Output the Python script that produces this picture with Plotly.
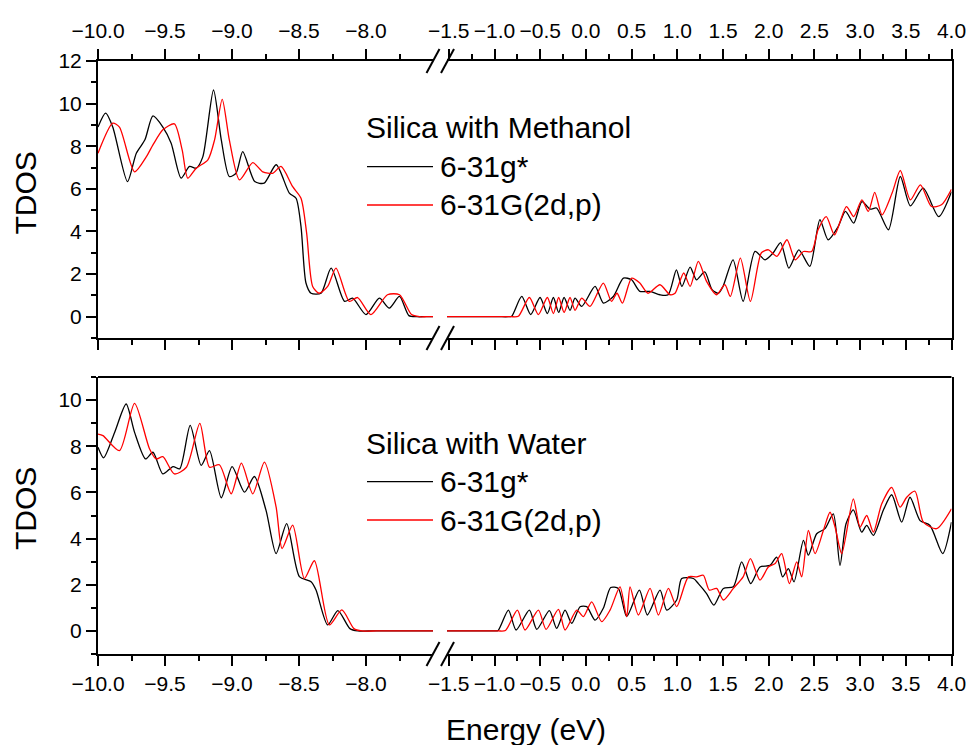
import plotly.graph_objects as go

# ---------------- data ----------------
# Silica with Methanol, basis 6-31g*
meth_g_E = [-10.0, -9.943, -9.89, -9.78, -9.714, -9.65, -9.59, -9.516, -9.454, -9.38,
            -9.317, -9.267, -9.218, -9.138, -9.08, -9.02, -8.97, -8.92, -8.83, -8.76,
            -8.67, -8.572, -8.522, -8.485, -8.448, -8.41, -8.336, -8.26, -8.16, -8.1,
            -8.0, -7.9, -7.826, -7.75, -7.68, -7.62, -7.56, -7.5,
            -1.52, -1.4, -1.25, -1.1, -0.95, -0.85, -0.812, -0.702, -0.604, -0.502,
            -0.422, -0.356, -0.298, -0.239, -0.174,
            -0.119, -0.046, 0.10, 0.191, 0.30, 0.41, 0.50, 0.59, 0.70, 0.81,
            0.90, 0.99, 1.05, 1.14, 1.21, 1.30, 1.38, 1.45, 1.50, 1.61,
            1.72, 1.85, 1.96, 2.05, 2.13, 2.22, 2.33, 2.45, 2.56, 2.65,
            2.76, 2.84, 2.93, 3.02, 3.11, 3.18, 3.31, 3.44, 3.55, 3.69, 3.86, 4.0]
meth_g_T = [8.9, 9.55, 8.9, 6.34, 7.67, 8.3, 9.42, 8.9, 8.14, 6.5,
            7.05, 6.97, 7.5, 10.64, 8.3, 6.58, 6.73, 7.75, 6.34, 6.27,
            7.13, 5.8, 5.56, 4.23, 1.58, 1.1, 1.1, 2.28, 0.72, 0.87,
            0.1, 0.87, 0.4, 0.95, 0.05, 0.0, 0.0, 0.0,
            0.0, 0.0, 0.0, 0.0, 0.0, 0.0, 0.02, 0.95, 0.1, 0.9,
            0.15, 0.9, 0.2, 0.9, 0.3,
            0.87, 0.48, 1.42, 0.64, 0.95, 1.81, 1.73, 1.19, 1.19, 1.03,
            1.03, 2.2, 1.42, 2.33, 1.73, 2.1, 1.27, 1.1, 1.42, 2.67,
            0.72, 3.06, 2.67, 3.0, 3.48, 2.28, 3.14, 2.36, 4.55, 3.61,
            4.23, 4.94, 4.39, 5.4, 5.05, 5.1, 4.08, 6.58, 5.2, 6.03, 4.7, 5.87]

# Silica with Methanol, basis 6-31G(2d,p)
meth_d_E = [-10.0, -9.89, -9.84, -9.727, -9.64, -9.59, -9.516, -9.43, -9.372, -9.33,
            -9.267, -9.18, -9.13, -9.073, -9.02, -8.944, -8.845, -8.77, -8.696, -8.634,
            -8.547, -8.485, -8.443, -8.398, -8.35, -8.286, -8.224, -8.125, -8.063, -7.963,
            -7.84, -7.75, -7.66, -7.6, -7.55, -7.5,
            -1.52, -1.4, -1.25, -1.1, -0.95, -0.82, -0.739, -0.619, -0.52, -0.422,
            -0.356, -0.298, -0.239, -0.174, -0.119,
            -0.046, 0.045, 0.19, 0.28, 0.34, 0.40, 0.50, 0.59, 0.68, 0.81,
            0.92, 0.975, 1.07, 1.14, 1.23, 1.32, 1.43, 1.52, 1.58, 1.69,
            1.80, 1.92, 1.997, 2.09, 2.20, 2.29, 2.38, 2.47, 2.54, 2.63,
            2.72, 2.85, 2.93, 3.02, 3.09, 3.16, 3.24, 3.35, 3.44, 3.55,
            3.66, 3.78, 3.89, 4.0]
meth_d_T = [7.67, 9.08, 8.9, 6.8, 7.5, 8.06, 8.77, 9.05, 7.83, 6.5,
            6.97, 7.36, 8.3, 10.2, 8.3, 6.42, 7.23, 6.8, 6.73, 7.05,
            6.1, 5.56, 3.92, 1.42, 1.1, 1.42, 2.28, 0.72, 0.9, 0.1,
            1.03, 1.03, 0.1, 0.0, 0.0, 0.0,
            0.0, 0.0, 0.0, 0.0, 0.0, 0.0, 0.02, 0.9, 0.1, 0.9,
            0.15, 0.9, 0.2, 0.9, 0.3,
            0.87, 0.48, 1.58, 0.72, 1.1, 0.64, 1.81, 1.58, 1.1, 1.5,
            1.03, 1.1, 2.05, 1.42, 2.6, 1.66, 1.03, 1.5, 0.95, 2.75,
            0.72, 3.0, 3.14, 2.83, 3.61, 2.67, 3.06, 3.06, 4.08, 4.7,
            3.84, 5.17, 4.7, 5.48, 4.94, 5.83, 4.78, 5.8, 6.86, 5.48,
            6.19, 5.17, 5.25, 5.98]

# Silica with Water, basis 6-31g*
wat_g_E = [-10.0, -9.958, -9.876, -9.79, -9.727, -9.645, -9.59, -9.516, -9.44, -9.39,
           -9.312, -9.23, -9.168, -9.08, -8.999, -8.907, -8.833, -8.746, -8.671, -8.592,
           -8.497, -8.41, -8.373, -8.286, -8.21, -8.12, -8.06, -7.95, -7.8, -7.65, -7.5,
           -1.52, -1.4, -1.25, -1.12, -1.0, -0.96, -0.848, -0.764, -0.619, -0.538,
           -0.4, -0.32, -0.228, -0.155,
           -0.064, 0.009, 0.1, 0.19, 0.271, 0.355, 0.446, 0.585, 0.672, 0.811,
           0.884, 0.993, 1.048, 1.176, 1.23, 1.32, 1.4, 1.504, 1.613, 1.704,
           1.803, 1.905, 2.015, 2.087, 2.153, 2.215, 2.277, 2.38, 2.434, 2.525,
           2.616, 2.707, 2.78, 2.846, 2.926, 3.017, 3.072, 3.145, 3.255, 3.346,
           3.455, 3.546, 3.656, 3.765, 3.904, 4.0]
wat_g_T = [7.96, 7.5, 8.6, 9.83, 8.6, 7.45, 7.74, 6.8, 7.12, 7.02,
           8.9, 7.17, 7.81, 5.77, 7.12, 6.01, 6.69, 5.22, 3.35, 4.65,
           2.35, 2.13, 1.77, 0.26, 0.88, 0.1, 0.0, 0.0, 0.0, 0.0, 0.0,
           0.0, 0.0, 0.0, 0.0, 0.0, 0.02, 0.9, 0.04, 0.9, 0.07,
           0.88, 0.11, 0.9, 0.33,
           1.05, 1.05, 0.47, 0.98, 1.88, 1.84, 0.62, 1.77, 0.69, 1.77,
           0.9, 1.34, 2.27, 2.27, 2.05, 1.62, 1.12, 1.84, 1.91, 2.99,
           2.05, 2.77, 2.84, 3.2, 2.34, 2.7, 2.13, 3.92, 3.28, 4.21,
           4.43, 5.07, 2.84, 4.64, 5.24, 4.28, 4.57, 4.14, 5.24, 5.9,
           4.71, 5.79, 4.78, 4.57, 3.35, 4.71]

# Silica with Water, basis 6-31G(2d,p)
wat_d_E = [-10.0, -9.963, -9.84, -9.727, -9.615, -9.565, -9.516, -9.43, -9.34, -9.24,
           -9.168, -9.094, -9.006, -8.93, -8.845, -8.758, -8.671, -8.626, -8.547, -8.46,
           -8.385, -8.274, -8.18, -8.09, -8.03, -7.92, -7.78, -7.64, -7.5,
           -1.52, -1.4, -1.25, -1.1, -0.96, -0.88, -0.75, -0.666, -0.52, -0.436,
           -0.301, -0.228, -0.1, -0.028,
           0.063, 0.173, 0.264, 0.373, 0.446, 0.483, 0.574, 0.702, 0.793, 0.902,
           0.993, 1.121, 1.212, 1.285, 1.35, 1.43, 1.504, 1.613, 1.72, 1.8,
           1.905, 1.996, 2.07, 2.142, 2.226, 2.306, 2.361, 2.434, 2.507, 2.598,
           2.671, 2.726, 2.799, 2.926, 2.999, 3.072, 3.145, 3.236, 3.346, 3.437,
           3.51, 3.601, 3.692, 3.838, 4.0]
wat_d_T = [8.53, 8.46, 7.81, 9.86, 7.88, 7.45, 7.55, 6.8, 7.09, 8.99,
           7.09, 7.2, 5.94, 7.27, 5.94, 7.31, 5.37, 3.57, 4.58, 2.27,
           3.04, 0.26, 0.91, 0.1, 0.0, 0.0, 0.0, 0.0, 0.0,
           0.0, 0.0, 0.0, 0.0, 0.0, 0.02, 0.9, 0.04, 0.9, 0.07,
           0.93, 0.04, 0.9, 0.62,
           1.26, 0.4, 0.9, 1.91, 0.62, 1.91, 0.69, 1.84, 0.69, 1.84,
           1.05, 2.34, 2.34, 2.41, 1.77, 1.84, 1.34, 1.84, 2.34, 3.13,
           2.2, 2.77, 2.92, 3.35, 2.05, 2.99, 2.34, 4.35, 3.35, 4.35,
           5.14, 4.5, 3.35, 5.72, 4.5, 5.0, 4.28, 5.5, 6.22, 5.36,
           5.79, 6.05, 4.71, 4.43, 5.29]

series_names = ["6-31g*", "6-31G(2d,p)"]
series_colors = ["black", "#ff0000"]
panel_titles = ["Silica with Methanol", "Silica with Water"]

# axis break: left segment and right segment of the energy axis
left_range = [-10.0, -7.5]
right_range = [-1.52, 4.0]
left_ticks = [-10.0, -9.5, -9.0, -8.5, -8.0]
left_ticktext = ["\u221210.0", "\u22129.5", "\u22129.0", "\u22128.5", "\u22128.0"]
left_minor = [-9.75, -9.25, -8.75, -8.25, -7.75]
right_ticks = [-1.5, -1.0, -0.5, 0.0, 0.5, 1.0, 1.5, 2.0, 2.5, 3.0, 3.5, 4.0]
right_ticktext = ["\u22121.5", "\u22121.0", "\u22120.5", "0.0", "0.5", "1.0", "1.5",
                  "2.0", "2.5", "3.0", "3.5", "4.0"]
right_minor = [-1.25, -0.75, -0.25, 0.25, 0.75, 1.25, 1.75, 2.25, 2.75, 3.25, 3.75]
top_y_range = [-1, 12]
top_y_ticks = [0, 2, 4, 6, 8, 10, 12]
bot_y_range = [-1, 11]
bot_y_ticks = [0, 2, 4, 6, 8, 10]

# ---------------- layout geometry ----------------
W, H = 972, 745
FONT = "Liberation Sans, Arial, sans-serif"


def fx(p):
    return p / W


def fy(p):
    return 1 - p / H


XL = [fx(98), fx(433)]
XR = [fx(447), fx(951.5)]
Y_TOP = [fy(338), fy(61)]
Y_BOT = [fy(654), fy(377)]

fig = go.Figure()

panels = [
    (meth_g_E, meth_g_T, meth_d_E, meth_d_T, ("x", "y"), ("x2", "y3")),
    (wat_g_E, wat_g_T, wat_d_E, wat_d_T, ("x3", "y2"), ("x4", "y4")),
]

for pi, (gE, gT, dE, dT, lax, rax) in enumerate(panels):
    for si, (E, T) in enumerate([(gE, gT), (dE, dT)]):
        le = [e for e in E if e <= left_range[1]]
        lt = [t for e, t in zip(E, T) if e <= left_range[1]]
        re_ = [e for e in E if e >= right_range[0]]
        rt = [t for e, t in zip(E, T) if e >= right_range[0]]
        line = dict(color=series_colors[si], width=1.3, shape="spline", smoothing=0.7)
        fig.add_trace(go.Scatter(x=le, y=lt, mode="lines", line=line,
                                 name=series_names[si], legendgroup=series_names[si],
                                 showlegend=False, xaxis=lax[0], yaxis=lax[1]))
        fig.add_trace(go.Scatter(x=re_, y=rt, mode="lines", line=line,
                                 name=series_names[si], legendgroup=series_names[si],
                                 showlegend=False, xaxis=rax[0], yaxis=rax[1]))

tickfont = dict(family=FONT, size=21, color="black")
base = dict(showline=True, linecolor="black", linewidth=2, ticks="outside",
            tickcolor="black", tickwidth=2, ticklen=10, showgrid=False,
            zeroline=False, tickfont=tickfont, automargin=False)


def xminor(vals):
    return dict(tickmode="array", tickvals=vals, ticks="outside", ticklen=5,
                tickwidth=2, tickcolor="black", showgrid=False)


yminor = dict(dtick=1, ticks="outside", ticklen=5, tickwidth=2, tickcolor="black",
              showgrid=False)
side_axis = dict(showline=True, linecolor="black", linewidth=2, ticks="",
                 showticklabels=False, showgrid=False, zeroline=False, automargin=False)

fig.update_layout(
    width=W, height=H, margin=dict(l=0, r=0, t=0, b=0, autoexpand=False),
    paper_bgcolor="white", plot_bgcolor="white", showlegend=False,
    font=dict(family=FONT, color="black"),
    xaxis=dict(base, domain=XL, anchor="y", side="top", range=left_range,
               tickmode="array", tickvals=left_ticks, ticktext=left_ticktext,
               minor=xminor(left_minor), mirror="ticks", ticklabelstandoff=3),
    xaxis2=dict(base, domain=XR, anchor="y3", side="top", range=right_range,
                tickmode="array", tickvals=right_ticks, ticktext=right_ticktext,
                minor=xminor(right_minor), mirror="ticks", ticklabelstandoff=3),
    yaxis=dict(base, domain=Y_TOP, anchor="x", range=top_y_range,
               tickmode="array", tickvals=top_y_ticks, minor=yminor),
    yaxis3=dict(side_axis, domain=Y_TOP, anchor="x2", side="right", range=top_y_range),
    xaxis3=dict(base, domain=XL, anchor="y2", side="bottom", range=left_range,
                tickmode="array", tickvals=left_ticks, ticktext=left_ticktext,
                minor=xminor(left_minor), mirror=False, ticklabelstandoff=0),
    xaxis4=dict(base, domain=XR, anchor="y4", side="bottom", range=right_range,
                tickmode="array", tickvals=right_ticks, ticktext=right_ticktext,
                minor=xminor(right_minor), mirror=False, ticklabelstandoff=0),
    yaxis2=dict(base, domain=Y_BOT, anchor="x3", range=bot_y_range,
                tickmode="array", tickvals=bot_y_ticks, minor=yminor),
    yaxis4=dict(side_axis, domain=Y_BOT, anchor="x4", side="right", range=bot_y_range),
)

shapes = []
# continuous top border of the lower panel
shapes.append(dict(type="line", xref="paper", yref="paper", x0=XL[0], x1=XR[1],
                   y0=Y_BOT[1], y1=Y_BOT[1], line=dict(color="black", width=2)))
# axis-break marks "//"
for cy in (61, 338, 654):
    for cx in (433, 447.5):
        shapes.append(dict(type="line", xref="paper", yref="paper",
                           x0=fx(cx - 6.5), y0=fy(cy + 12), x1=fx(cx + 6.5), y1=fy(cy - 12),
                           line=dict(color="black", width=2)))

annotations = []
legend_pos = [(127.5, 166.7, 205.0), (443.0, 481.7, 520.0)]
for pi, (ty, l1, l2) in enumerate(legend_pos):
    annotations.append(dict(text=panel_titles[pi], xref="paper", yref="paper",
                            x=fx(364), y=fy(ty), xanchor="left", yanchor="middle",
                            showarrow=False, font=dict(family=FONT, size=30, color="black")))
    for si, ly in enumerate((l1, l2)):
        shapes.append(dict(type="line", xref="paper", yref="paper",
                           x0=fx(367), x1=fx(433), y0=fy(ly), y1=fy(ly),
                           line=dict(color=series_colors[si], width=1.3)))
        annotations.append(dict(text=series_names[si], xref="paper", yref="paper",
                                x=fx(438), y=fy(ly), xanchor="left", yanchor="middle",
                                showarrow=False,
                                font=dict(family=FONT, size=30, color="black")))

# axis titles
for cy in (193.5, 509):
    annotations.append(dict(text="TDOS", xref="paper", yref="paper", x=fx(25), y=fy(cy),
                            xanchor="center", yanchor="middle", textangle=-90,
                            showarrow=False, font=dict(family=FONT, size=30, color="black")))
annotations.append(dict(text="Energy (eV)", xref="paper", yref="paper", x=fx(526), y=fy(729),
                        xanchor="center", yanchor="middle", showarrow=False,
                        font=dict(family=FONT, size=30, color="black")))

fig.update_layout(shapes=shapes, annotations=annotations)
fig.write_html(
    "out.html",
    config={"displayModeBar": False},
    post_script="document.body.style.margin='0';document.body.style.overflow='hidden';",
)
